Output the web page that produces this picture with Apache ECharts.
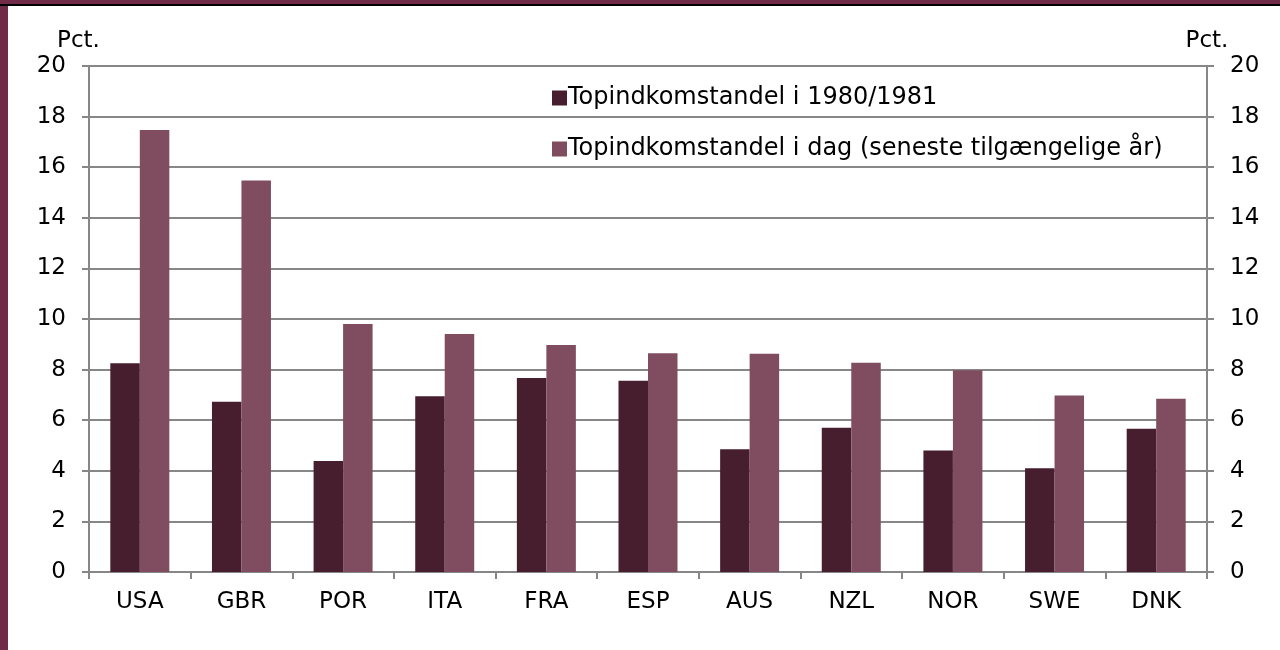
<!DOCTYPE html>
<html>
<head>
<meta charset="utf-8">
<script src="https://cdn.jsdelivr.net/npm/echarts@6/dist/echarts.min.js"></script>
<style>
  html, body { margin: 0; padding: 0; background: #fff; }
  #chart { width: 1280px; height: 650px; }
</style>
</head>
<body>
<div id="chart"></div>
<script>
// lande og topindkomstandele (pct.)
const countries = ['USA', 'GBR', 'POR', 'ITA', 'FRA', 'ESP', 'AUS', 'NZL', 'NOR', 'SWE', 'DNK']
const share1980 = [8.25, 6.73, 4.39, 6.95, 7.67, 7.56, 4.85, 5.70, 4.80, 4.10, 5.66]
const shareToday = [17.47, 15.47, 9.80, 9.41, 8.97, 8.65, 8.63, 8.27, 7.97, 6.98, 6.85]
const seriesNames = ['Topindkomstandel i 1980/1981', 'Topindkomstandel i dag (seneste tilgængelige år)']

const fontFamily = 'DejaVu Sans'
const fontSize = 23
const purple = '#6f2b47'
const gridColor = '#878787'

const chart = echarts.init(document.getElementById('chart'))

function yAxis(pos) {
  return {
    type: 'value',
    position: pos,
    min: 0,
    max: 20,
    interval: 2,
    name: 'Pct.',
    nameLocation: 'end',
    nameGap: 13,
    nameTextStyle: {
      color: '#000',
      fontSize: fontSize,
      fontFamily: fontFamily,
      align: 'center',
      padding: pos === 'left' ? [0, 21, 0, 0] : [0, 0, 0, 0]
    },
    axisLine: { show: true, lineStyle: { color: gridColor, width: 2 } },
    axisTick: { show: true, length: 7, lineStyle: { color: gridColor, width: 2 } },
    axisLabel: {
      color: '#000',
      fontSize: fontSize,
      fontFamily: fontFamily,
      margin: 23
    },
    splitLine: { show: pos === 'left', lineStyle: { color: gridColor, width: 2 } }
  }
}

chart.setOption({
  animation: false,
  backgroundColor: '#fff',
  grid: { left: 89, right: 73, top: 66, bottom: 78 },
  legend: {
    orient: 'vertical',
    left: 547,
    top: 81,
    itemWidth: 15,
    itemHeight: 15,
    itemGap: 27,
    icon: 'rect',
    textStyle: { color: '#000', fontSize: 24, fontFamily: fontFamily, padding: [0, 0, 0, -4] },
    data: seriesNames
  },
  xAxis: {
    type: 'category',
    data: countries,
    axisLine: { lineStyle: { color: gridColor, width: 2 } },
    axisTick: { show: true, length: 7, lineStyle: { color: gridColor, width: 2 } },
    axisLabel: { color: '#000', fontSize: fontSize, fontFamily: fontFamily, margin: 19 }
  },
  yAxis: [yAxis('left'), yAxis('right')],
  series: [
    {
      name: seriesNames[0],
      type: 'bar',
      data: share1980,
      barWidth: 29.5,
      barGap: '0%',
      itemStyle: { color: '#471e2e' }
    },
    {
      name: seriesNames[1],
      type: 'bar',
      data: shareToday,
      barWidth: 29.5,
      barGap: '0%',
      itemStyle: { color: '#7f4d5f' }
    }
  ],
  graphic: [
    { type: 'rect', left: 0, top: 0, shape: { width: 1280, height: 4 }, style: { fill: purple } },
    { type: 'rect', left: 0, top: 4, shape: { width: 1280, height: 2 }, style: { fill: '#000' } },
    { type: 'rect', left: 0, top: 6, shape: { width: 8, height: 644 }, style: { fill: purple } }
  ]
})
</script>
</body>
</html>
